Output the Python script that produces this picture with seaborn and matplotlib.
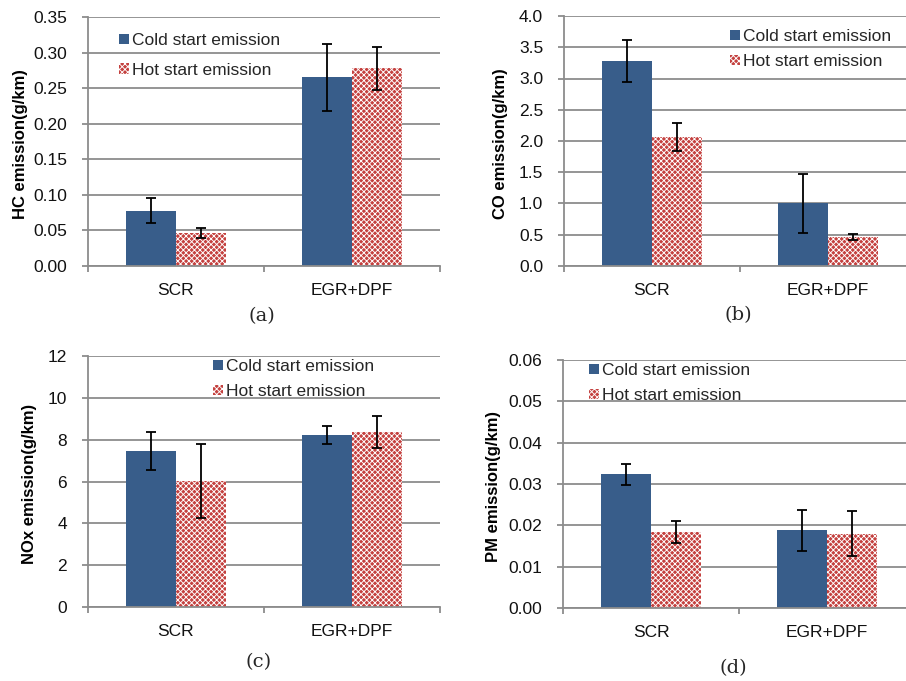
import numpy as np
import pandas as pd
import matplotlib
matplotlib.use("Agg")
import matplotlib.pyplot as plt
import seaborn as sns
from matplotlib.patches import Patch
from matplotlib.ticker import FormatStrFormatter, MultipleLocator

categories = ["SCR", "EGR+DPF"]
series = ["Cold start emission", "Hot start emission"]

hc_cold = [0.078, 0.265]
hc_cold_err = [0.017, 0.047]
hc_hot = [0.047, 0.278]
hc_hot_err = [0.007, 0.030]

co_cold = [3.28, 1.00]
co_cold_err = [0.33, 0.47]
co_hot = [2.06, 0.46]
co_hot_err = [0.22, 0.05]

nox_cold = [7.45, 8.22]
nox_cold_err = [0.90, 0.45]
nox_hot = [6.02, 8.37]
nox_hot_err = [1.78, 0.75]

pm_cold = [0.0323, 0.0188]
pm_cold_err = [0.0025, 0.0050]
pm_hot = [0.0184, 0.0180]
pm_hot_err = [0.0027, 0.0054]

ylabels = ["HC emission(g/km)", "CO emission(g/km)", "NOx emission(g/km)", "PM emission(g/km)"]
panel_tags = ["(a)", "(b)", "(c)", "(d)"]
ymaxes = [0.35, 4.0, 12, 0.06]
ysteps = [0.05, 0.5, 2, 0.01]
yfmts = ["%.2f", "%.1f", "%.0f", "%.2f"]

COLD = "#385D8A"
HOT = "#C4413F"
GRID = "#8C8C8C"

sns.set_style("white")
plt.rcParams["font.family"] = ["Liberation Sans", "DejaVu Sans"]
plt.rcParams["hatch.linewidth"] = 0.65

W, H = 906, 681
fig = plt.figure(figsize=(W / 100, H / 100), dpi=100)

# layout in pixels: (left, top, bottom) ; width 352
layout = [(88, 17, 266), (564, 16, 266), (88, 356, 607), (563, 360, 608)]
label_x = [-0.171, -0.159, -0.145, -0.177]
legend_anchor = [(0.088, 0.935, 0.84), (0.472, 0.948, 0.57), (0.355, 0.988, 0.57), (0.074, 0.988, 0.57)]
tag_pos = [(262, 316), (738, 315), (259, 662), (733, 668)]

data = [
    (hc_cold, hc_cold_err, hc_hot, hc_hot_err),
    (co_cold, co_cold_err, co_hot, co_hot_err),
    (nox_cold, nox_cold_err, nox_hot, nox_hot_err),
    (pm_cold, pm_cold_err, pm_hot, pm_hot_err),
]

for i, (cold, cold_err, hot, hot_err) in enumerate(data):
    left, top, bottom = layout[i]
    ax = fig.add_axes([left / W, 1 - bottom / H, 352 / W, (bottom - top) / H])
    df = pd.DataFrame({
        "category": categories * 2,
        "series": [series[0]] * 2 + [series[1]] * 2,
        "value": list(cold) + list(hot),
    })
    sns.barplot(data=df, x="category", y="value", hue="series", hue_order=series,
                palette=[COLD, HOT], width=0.57, errorbar=None, legend=False,
                saturation=1, linewidth=0, ax=ax)
    for bar in ax.containers[1]:
        bar.set_hatch("xxxxxx")
        bar.set_edgecolor("white")
        bar.set_linewidth(0)
    for cont, errs in zip(ax.containers, [cold_err, hot_err]):
        xs = [b.get_x() + b.get_width() / 2 for b in cont]
        hs = [b.get_height() for b in cont]
        ax.errorbar(xs, hs, yerr=errs, fmt="none", ecolor="black",
                    elinewidth=1.3, capsize=3.8, capthick=1.3, zorder=5)

    ax.set_xlim(-0.5, 1.5)
    ax.set_ylim(0, ymaxes[i])
    ax.yaxis.set_major_locator(MultipleLocator(ysteps[i]))
    ax.yaxis.set_major_formatter(FormatStrFormatter(yfmts[i]))
    ax.set_axisbelow(True)
    ax.grid(axis="y", color=GRID, linewidth=1.3)
    ax.grid(axis="x", visible=False)
    for s in ["top", "right"]:
        ax.spines[s].set_visible(False)
    for s in ["left", "bottom"]:
        ax.spines[s].set_color(GRID)
        ax.spines[s].set_linewidth(1.3)
    ax.set_xticks([-0.5, 0.5, 1.5], minor=True)
    ax.tick_params(axis="x", which="minor", length=4, width=1.3, color=GRID, direction="out", bottom=True)
    ax.tick_params(axis="x", which="major", length=0, pad=11.9, labelsize=12.5, labelcolor="#111111")
    ax.tick_params(axis="y", which="major", length=4.5, width=1.3, color=GRID, direction="out",
                   left=True, pad=10.5, labelsize=12.5, labelcolor="#111111")
    ax.set_xlabel("")
    ax.set_ylabel(ylabels[i], fontsize=12, fontweight="bold", color="black")
    ax.yaxis.set_label_coords(label_x[i], 0.49)

    handles = [Patch(facecolor=COLD, edgecolor="none"),
               Patch(facecolor=HOT, edgecolor="white", linewidth=0, hatch="xxxxxx")]
    lx, ly, lsp = legend_anchor[i]
    ax.legend(handles, series, loc="upper left", bbox_to_anchor=(lx, ly), frameon=False,
              fontsize=12.5, handlelength=0.55, handleheight=0.55, handletextpad=0.2,
              labelspacing=lsp, borderpad=0, borderaxespad=0)

    tx, ty = tag_pos[i]
    fig.text(tx / W, 1 - ty / H, panel_tags[i], ha="center", va="center",
             family="DejaVu Serif", fontsize=14)

fig.savefig("out.png", dpi=100)
